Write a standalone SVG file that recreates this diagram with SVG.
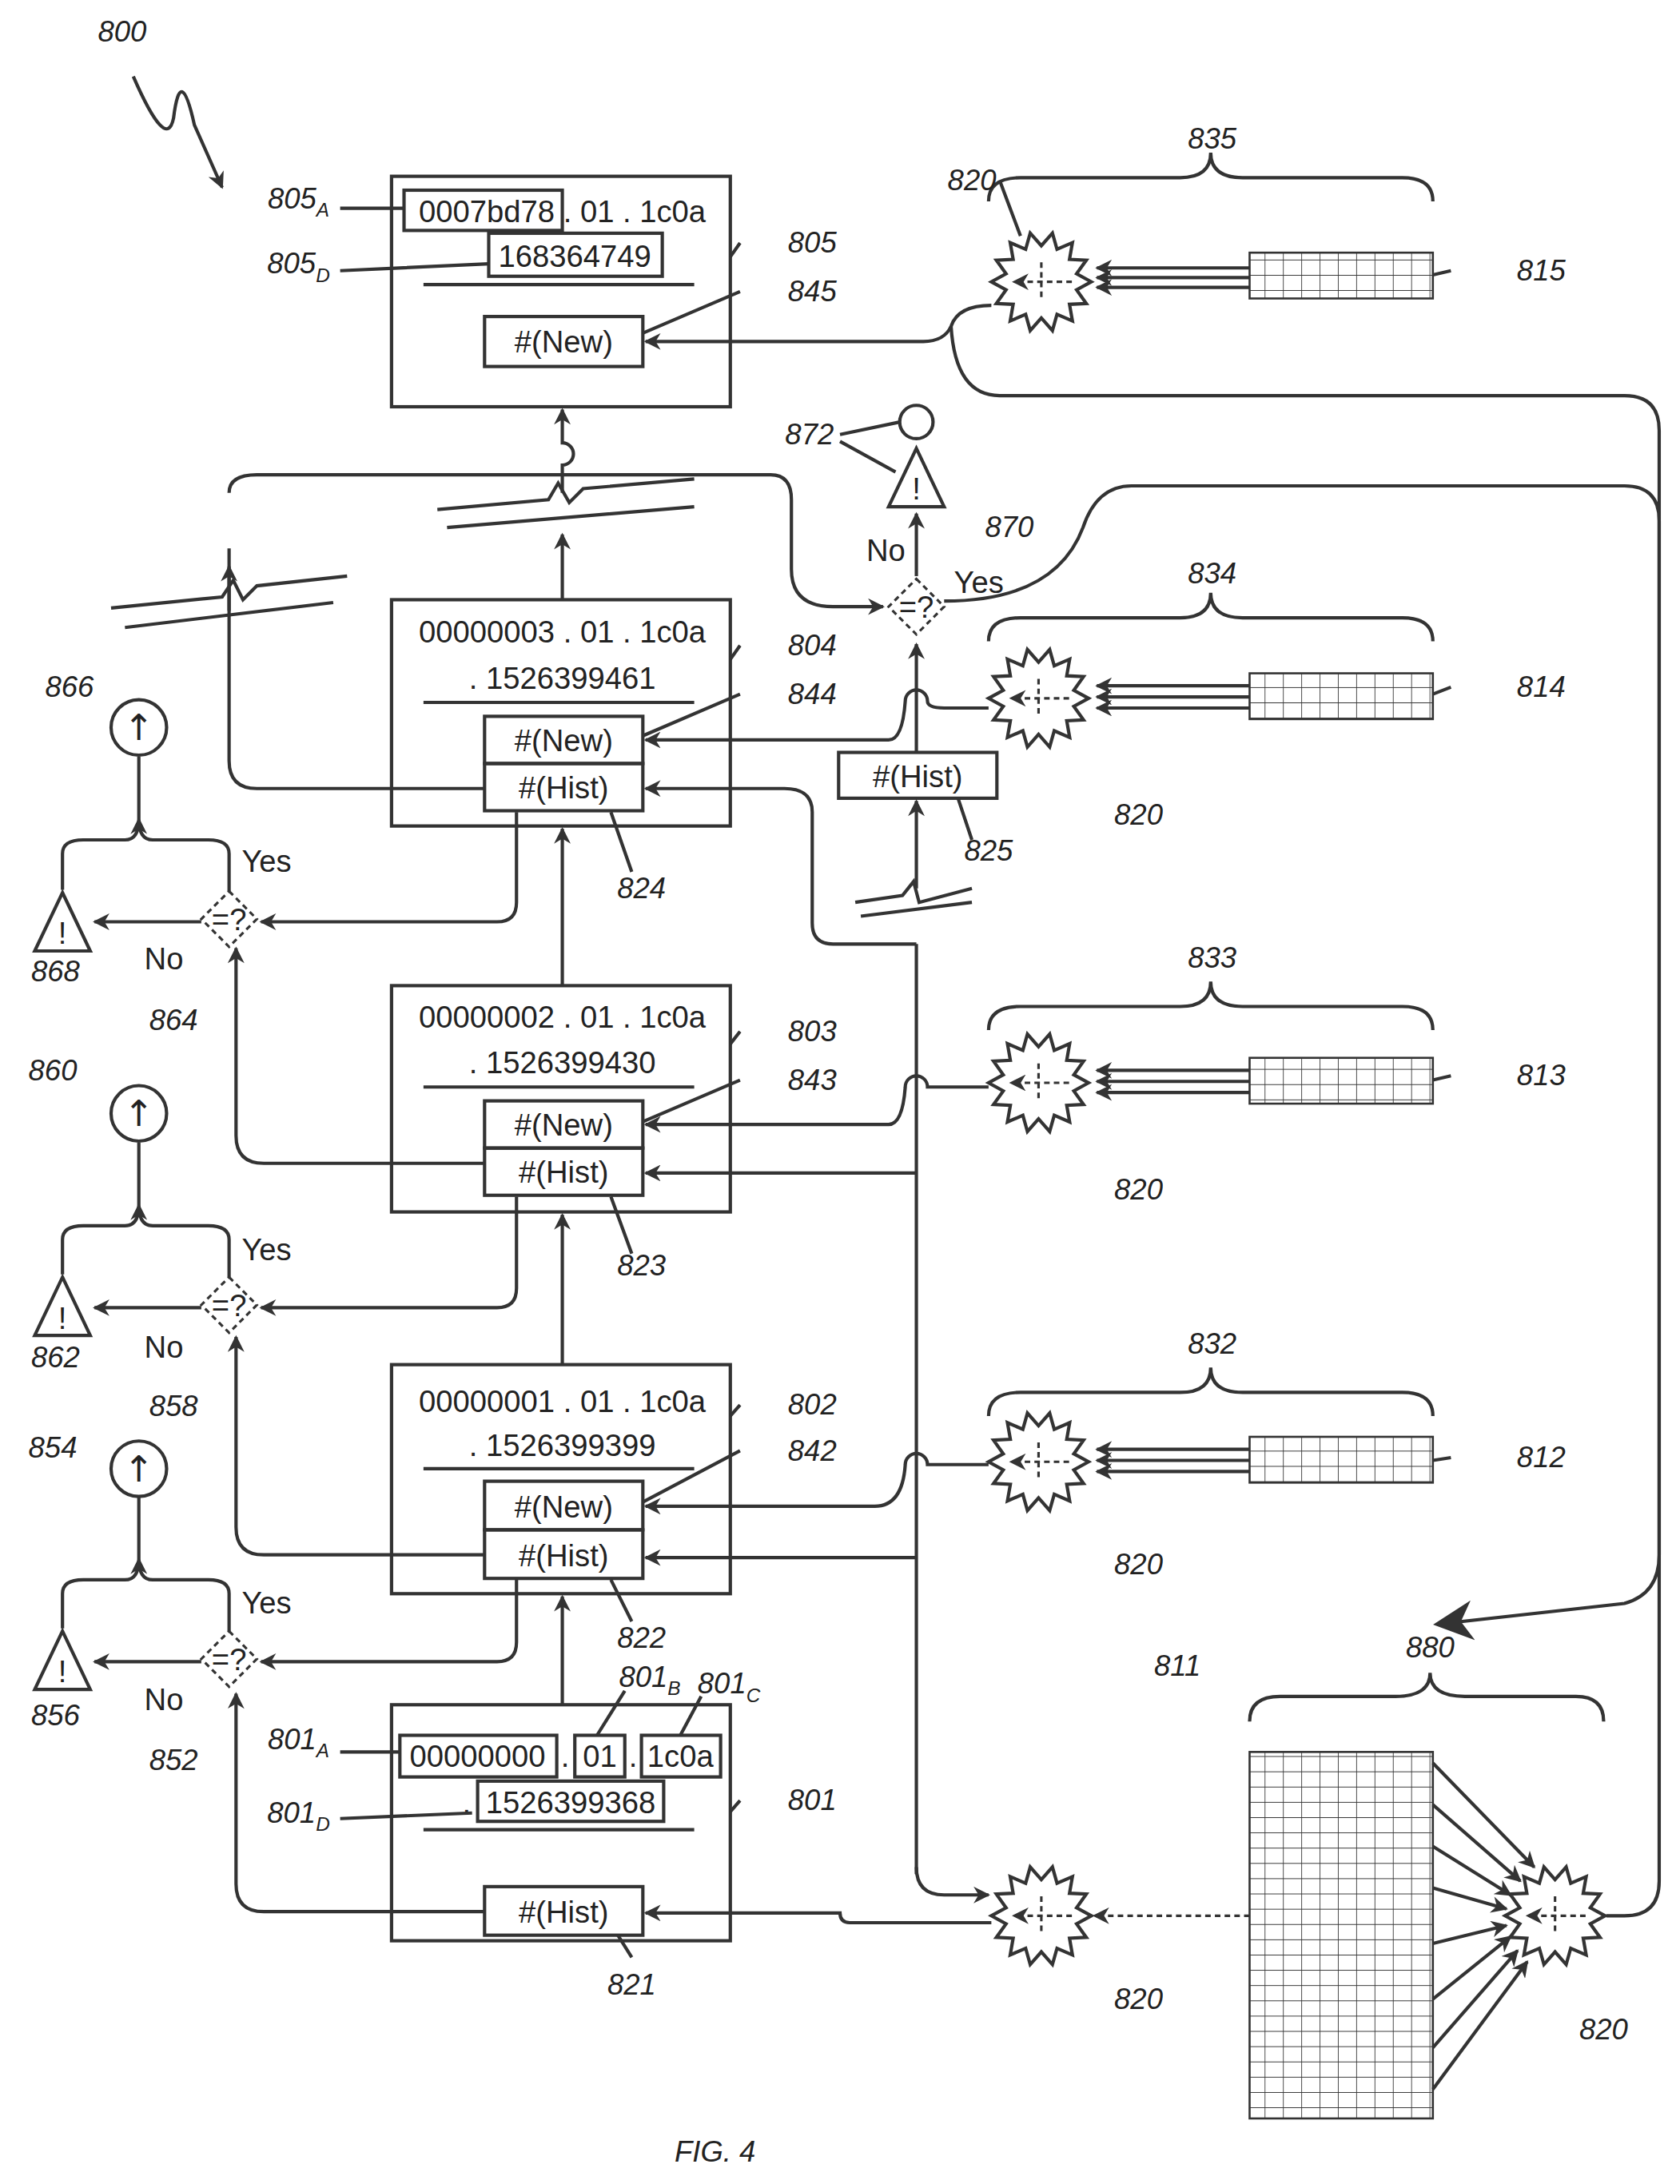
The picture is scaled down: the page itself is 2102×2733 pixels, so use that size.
<svg xmlns="http://www.w3.org/2000/svg" xmlns:xlink="http://www.w3.org/1999/xlink" width="2102" height="2733" viewBox="0 0 2102 2733">
<style>
.b{fill:none;stroke:#333;stroke-width:2.4}
.ln{fill:none;stroke:#333;stroke-width:2.4}
.d{fill:none;stroke:#333;stroke-width:1.8;stroke-dasharray:4 3}
.t{font-family:"Liberation Sans",Arial,sans-serif;font-size:22px;fill:#222;text-anchor:middle}
.l{font-family:"Liberation Sans",Arial,sans-serif;font-size:21px;font-style:italic;fill:#222;text-anchor:middle}
.s{font-size:14px}
.up{font-family:"DejaVu Sans",sans-serif;font-size:26px;fill:#222;text-anchor:middle}
</style>
<defs>
<marker id="a" viewBox="0 0 10 10" refX="9" refY="5" markerWidth="14" markerHeight="12" orient="auto" markerUnits="userSpaceOnUse"><path d="M0,0 L10,5 L0,10 L3,5 z" fill="#333"/></marker>
<marker id="A" viewBox="0 0 10 10" refX="9" refY="5" markerWidth="12" markerHeight="12" orient="auto"><path d="M0,0 L10,5 L0,10 L3,5 z" fill="#333"/></marker>
<pattern id="g" width="13.2" height="11" patternUnits="userSpaceOnUse"><path d="M0,0 H13.2 M0,0 V11" stroke="#333" stroke-width="1" fill="none"/></pattern>
<g id="fl">
<polygon class="b" fill="#fff" points="36,0 25.4,5.8 32.4,15.6 20.3,16.2 22.4,28.2 11.3,23.4 8,35.1 0,26 -8,35.1 -11.3,23.4 -22.4,28.2 -20.3,16.2 -32.4,15.6 -25.4,5.8 -36,0 -25.4,-5.8 -32.4,-15.6 -20.3,-16.2 -22.4,-28.2 -11.3,-23.4 -8,-35.1 0,-26 8,-35.1 11.3,-23.4 22.4,-28.2 20.3,-16.2 32.4,-15.6 25.4,-5.8"/>
<path class="d" d="M0,-14 V14 M22,0 H-20" marker-end="url(#a)"/>
</g>
<g id="dm"><path class="d" d="M0,-20 L20,0 L0,20 L-20,0 Z"/><text class="t" y="8" font-size="20">=?</text></g>
<g id="tr"><path class="b" d="M0,-22 L20,20 H-20 Z"/><text class="t" y="15" font-size="18">!</text></g>
</defs>
<rect width="2102" height="2733" fill="#fff"/>
<g transform="scale(1.7372)">
<g id="n805"><rect class="b" x="282" y="127" width="244" height="166"/>
<rect class="b" x="291" y="137" width="114" height="29"/><text class="t" x="405" y="160">0007bd78 . 01 . 1c0a</text>
<rect class="b" x="352" y="168" width="125" height="31"/><text class="t" x="414" y="192">168364749</text>
<path class="ln" d="M305,205 H500"/><rect class="b" x="349" y="228" width="114" height="36"/><text class="t" x="406" y="254">#(New)</text></g>
<g id="n804"><rect class="b" x="282" y="432" width="244" height="163"/><text class="t" x="405" y="463">00000003 . 01 . 1c0a</text><text class="t" x="405" y="496">. 1526399461</text><path class="ln" d="M305,506 H500"/>
<rect class="b" x="349" y="516" width="114" height="34"/><text class="t" x="406" y="541">#(New)</text><rect class="b" x="349" y="550" width="114" height="34"/><text class="t" x="406" y="575">#(Hist)</text></g>
<g id="n803"><rect class="b" x="282" y="710" width="244" height="163"/><text class="t" x="405" y="740">00000002 . 01 . 1c0a</text><text class="t" x="405" y="773">. 1526399430</text><path class="ln" d="M305,783 H500"/>
<rect class="b" x="349" y="793" width="114" height="34"/><text class="t" x="406" y="818">#(New)</text><rect class="b" x="349" y="827" width="114" height="34"/><text class="t" x="406" y="852">#(Hist)</text></g>
<g id="n802"><rect class="b" x="282" y="983" width="244" height="165"/><text class="t" x="405" y="1017">00000001 . 01 . 1c0a</text><text class="t" x="405" y="1049">. 1526399399</text><path class="ln" d="M305,1058 H500"/>
<rect class="b" x="349" y="1067" width="114" height="35"/><text class="t" x="406" y="1093">#(New)</text><rect class="b" x="349" y="1102" width="114" height="35"/><text class="t" x="406" y="1128">#(Hist)</text></g>
<g id="n801"><rect class="b" x="282" y="1228" width="244" height="170"/>
<rect class="b" x="288" y="1250" width="113" height="30"/><rect class="b" x="414" y="1250" width="36" height="30"/><rect class="b" x="462" y="1250" width="57" height="30"/>
<text class="t" x="344" y="1273">00000000</text><text class="t" x="407" y="1273">.</text><text class="t" x="432" y="1273">01</text><text class="t" x="456" y="1273">.</text><text class="t" x="490" y="1273">1c0a</text>
<rect class="b" x="344" y="1283" width="134" height="29"/><text class="t" x="336" y="1306">.</text><text class="t" x="411" y="1306">1526399368</text>
<path class="ln" d="M305,1318 H500"/><rect class="b" x="349" y="1359" width="114" height="35"/><text class="t" x="406" y="1385">#(Hist)</text></g>
<g id="n825"><rect class="b" x="604" y="542" width="114" height="33"/><text class="t" x="661" y="567">#(Hist)</text></g>
<g id="grids">
<rect x="900" y="182" width="132" height="33" fill="url(#g)" stroke="#333" stroke-width="1.5"/>
<rect x="900" y="485" width="132" height="33" fill="url(#g)" stroke="#333" stroke-width="1.5"/>
<rect x="900" y="762" width="132" height="33" fill="url(#g)" stroke="#333" stroke-width="1.5"/>
<rect x="900" y="1035" width="132" height="33" fill="url(#g)" stroke="#333" stroke-width="1.5"/>
<rect x="900" y="1262" width="132" height="264" fill="url(#g)" stroke="#333" stroke-width="1.5"/>
</g>
<g id="connectors">
<path class="ln" d="M405,1228 V1150" marker-end="url(#a)"/><path class="ln" d="M405,983 V875" marker-end="url(#a)"/><path class="ln" d="M405,710 V597" marker-end="url(#a)"/>
<path class="ln" d="M405,432 V385"  marker-end="url(#a)"/><path class="ln" d="M405,355 V335 a8,8 0 0 0 0,-16 V295" marker-end="url(#a)"/>
<path class="ln" d="M315,367 L395,360 L402,348 L410,362 L420,352 L500,345 M322,380 L500,365"/>
<path class="ln" d="M349,568 H185 Q165,568 165,548 V395"/><path class="ln" d="M165,440 V408" marker-end="url(#a)"/>
<path class="ln" d="M165,355 Q165,342 185,342 H555 Q570,342 570,360 V410 Q570,437 600,437 H636" marker-end="url(#a)"/>
<path class="ln" d="M80,438 L160,430 L168,418 L175,432 L185,422 L250,415 M90,452 L240,434"/>
<path class="ln" d="M349,838 H190 Q170,838 170,818 V683" marker-end="url(#a)"/>
<path class="ln" d="M349,1120 H190 Q170,1120 170,1100 V963" marker-end="url(#a)"/>
<path class="ln" d="M349,1377 H190 Q170,1377 170,1357 V1220" marker-end="url(#a)"/>
<path class="ln" d="M372,585 V650 Q372,664 358,664 H188" marker-end="url(#a)"/>
<path class="ln" d="M372,862 V928 Q372,942 358,942 H188" marker-end="url(#a)"/>
<path class="ln" d="M372,1138 V1183 Q372,1197 358,1197 H188" marker-end="url(#a)"/>
<path class="ln" d="M145,664 H68" marker-end="url(#a)"/><path class="ln" d="M145,942 H68" marker-end="url(#a)"/><path class="ln" d="M145,1197 H68" marker-end="url(#a)"/>
<path class="ln" d="M45,641 V615 Q45,605 60,605 H90 Q100,605 100,590 V545 M165,642 V615 Q165,605 150,605 H110 Q100,605 100,590" marker-end="url(#a)"/>
<path class="ln" d="M45,918 V893 Q45,883 60,883 H90 Q100,883 100,868 V823 M165,920 V893 Q165,883 150,883 H110 Q100,883 100,868" marker-end="url(#a)"/>
<path class="ln" d="M45,1173 V1148 Q45,1138 60,1138 H90 Q100,1138 100,1123 V1078 M165,1175 V1148 Q165,1138 150,1138 H110 Q100,1138 100,1123" marker-end="url(#a)"/>
<path class="ln" d="M660,415 V370" marker-end="url(#a)"/><path class="ln" d="M660,542 V464" marker-end="url(#a)"/>
<path class="ln" d="M660,1350 V680 M660,640 V577" marker-end="url(#a)"/>
<path class="ln" d="M620,660 L700,650 M616,650 L650,645 L658,635 L662,650 L700,640"/>
<path class="ln" d="M660,680 H600 Q585,680 585,665 V585 Q585,568 565,568 H465" marker-end="url(#a)"/>
<path class="ln" d="M660,845 H465" marker-end="url(#a)"/><path class="ln" d="M660,1122 H465" marker-end="url(#a)"/>
<path class="ln" d="M660,1345 Q660,1365 680,1365 H712" marker-end="url(#a)"/>
<path class="ln" d="M714,1385 H612 Q605,1385 605,1378 H465" marker-end="url(#a)"/>
<path class="d" d="M900,1380 H788" marker-end="url(#a)"/>
<path class="ln" d="M712,510 H680 Q668,510 668,505 a8,8 0 0 0 -16,0 Q650,533 640,533 H465" marker-end="url(#a)"/>
<path class="ln" d="M712,783 H668 a8,8 0 0 0 -16,0 Q650,810 640,810 H465" marker-end="url(#a)"/>
<path class="ln" d="M712,1055 H668 a8,8 0 0 0 -16,0 Q650,1085 630,1085 H465" marker-end="url(#a)"/>
<path class="ln" d="M714,220 Q690,220 685,235 Q680,246 665,246 H465" marker-end="url(#a)"/>
<path class="ln" d="M685,235 Q688,285 720,285 H1170 Q1195,285 1195,310 V1355 Q1195,1380 1170,1380 H1157"/>
<path class="ln" d="M680,433 Q760,433 780,380 Q790,350 815,350 H1170 Q1195,350 1195,375 V1120 Q1195,1148 1170,1155 L1035,1170" marker-end="url(#A)"/>
<path class="ln" d="M900,193 H790" marker-end="url(#a)"/><path class="ln" d="M900,200 H790" marker-end="url(#a)"/><path class="ln" d="M900,207 H790" marker-end="url(#a)"/>
<path class="ln" d="M900,494 H790" marker-end="url(#a)"/><path class="ln" d="M900,502 H790" marker-end="url(#a)"/><path class="ln" d="M900,510 H790" marker-end="url(#a)"/>
<path class="ln" d="M900,771 H790" marker-end="url(#a)"/><path class="ln" d="M900,779 H790" marker-end="url(#a)"/><path class="ln" d="M900,787 H790" marker-end="url(#a)"/>
<path class="ln" d="M900,1044 H790" marker-end="url(#a)"/><path class="ln" d="M900,1052 H790" marker-end="url(#a)"/><path class="ln" d="M900,1060 H790" marker-end="url(#a)"/>
<path class="ln" d="M1032,1270 L1105,1345" marker-end="url(#a)"/><path class="ln" d="M1032,1300 L1095,1355" marker-end="url(#a)"/><path class="ln" d="M1032,1330 L1088,1365" marker-end="url(#a)"/><path class="ln" d="M1032,1360 L1085,1375" marker-end="url(#a)"/>
<path class="ln" d="M1032,1400 L1085,1387" marker-end="url(#a)"/><path class="ln" d="M1032,1440 L1088,1395" marker-end="url(#a)"/><path class="ln" d="M1032,1475 L1093,1405" marker-end="url(#a)"/><path class="ln" d="M1032,1505 L1100,1413" marker-end="url(#a)"/>
<path class="ln" d="M712,145 Q712,128 735,128 H850 Q872,128 872,110 Q872,128 895,128 H1010 Q1032,128 1032,145"/>
<path class="ln" d="M712,462 Q712,445 735,445 H850 Q872,445 872,427 Q872,445 895,445 H1010 Q1032,445 1032,462"/>
<path class="ln" d="M712,742 Q712,725 735,725 H850 Q872,725 872,707 Q872,725 895,725 H1010 Q1032,725 1032,742"/>
<path class="ln" d="M712,1020 Q712,1003 735,1003 H850 Q872,1003 872,985 Q872,1003 895,1003 H1010 Q1032,1003 1032,1020"/>
<path class="ln" d="M900,1240 Q900,1222 922,1222 H1005 Q1030,1222 1030,1205 Q1030,1222 1055,1222 H1135 Q1155,1222 1155,1240"/>
<path class="ln" d="M96,55 Q120,110 125,85 Q130,45 140,90 L160,135" marker-end="url(#a)"/>
</g>
<g id="shapes">
<use xlink:href="#fl" x="750" y="203"/><use xlink:href="#fl" x="748" y="503"/><use xlink:href="#fl" x="748" y="780"/><use xlink:href="#fl" x="748" y="1053"/><use xlink:href="#fl" x="750" y="1380"/><use xlink:href="#fl" x="1120" y="1380"/>
<use xlink:href="#dm" x="165" y="662"/><use xlink:href="#dm" x="165" y="940"/><use xlink:href="#dm" x="165" y="1195"/><use xlink:href="#dm" x="660" y="437"/>
<use xlink:href="#tr" x="45" y="665"/><use xlink:href="#tr" x="45" y="942"/><use xlink:href="#tr" x="45" y="1197"/><use xlink:href="#tr" x="660" y="345"/>
<circle class="b" cx="100" cy="524" r="20"/><text class="up" x="100" y="533">↑</text>
<circle class="b" cx="100" cy="802" r="20"/><text class="up" x="100" y="811">↑</text>
<circle class="b" cx="100" cy="1058" r="20"/><text class="up" x="100" y="1067">↑</text>
<circle class="b" cx="660" cy="304" r="12"/>
<path class="ln" d="M605,313 L648,304 M605,318 L645,340 M245,150 L291,150 M245,195 L352,190 M245,1262 L288,1262 M245,1310 L340,1306 M450,1218 L430,1250 M505,1222 L490,1250 M533,175 L526,185 M533,210 L463,240 M533,465 L526,475 M533,500 L463,530 M533,743 L526,752 M533,778 L463,808 M533,1012 L526,1020 M533,1045 L463,1082 M533,1297 L526,1305 M1045,195 L1032,198 M1045,495 L1032,500 M1045,775 L1032,778 M1045,1050 L1032,1052 M455,1410 L445,1394 M455,1168 L440,1138 M455,903 L440,862 M455,628 L440,585 M700,605 L690,575 M720,130 L735,170"/>
</g>
<g id="labels">
<text class="l" x="88" y="30">800</text>
<text class="l" x="215" y="150">805<tspan class="s" dy="6">A</tspan></text><text class="l" x="215" y="197">805<tspan class="s" dy="6">D</tspan></text>
<text class="l" x="585" y="182">805</text><text class="l" x="585" y="217">845</text>
<text class="l" x="585" y="472">804</text><text class="l" x="585" y="507">844</text><text class="l" x="462" y="647">824</text>
<text class="l" x="585" y="750">803</text><text class="l" x="585" y="785">843</text><text class="l" x="462" y="919">823</text>
<text class="l" x="585" y="1019">802</text><text class="l" x="585" y="1052">842</text><text class="l" x="462" y="1187">822</text>
<text class="l" x="585" y="1304">801</text><text class="l" x="455" y="1437">821</text>
<text class="l" x="215" y="1260">801<tspan class="s" dy="6">A</tspan></text><text class="l" x="215" y="1313">801<tspan class="s" dy="6">D</tspan></text>
<text class="l" x="468" y="1215">801<tspan class="s" dy="6">B</tspan></text><text class="l" x="525" y="1220">801<tspan class="s" dy="6">C</tspan></text>
<text class="l" x="873" y="107">835</text><text class="l" x="873" y="420">834</text><text class="l" x="873" y="697">833</text><text class="l" x="873" y="975">832</text><text class="l" x="1030" y="1194">880</text><text class="l" x="848" y="1207">811</text>
<text class="l" x="1110" y="202">815</text><text class="l" x="1110" y="502">814</text><text class="l" x="1110" y="782">813</text><text class="l" x="1110" y="1057">812</text>
<text class="l" x="700" y="137">820</text><text class="l" x="820" y="594">820</text><text class="l" x="820" y="864">820</text><text class="l" x="820" y="1134">820</text><text class="l" x="820" y="1447">820</text><text class="l" x="1155" y="1469">820</text>
<text class="l" x="583" y="320">872</text><text class="l" x="712" y="620">825</text><text class="l" x="727" y="387">870</text>
<text class="l" x="50" y="502">866</text><text class="l" x="38" y="778">860</text><text class="l" x="38" y="1050">854</text>
<text class="l" x="40" y="707">868</text><text class="l" x="40" y="985">862</text><text class="l" x="40" y="1243">856</text>
<text class="l" x="125" y="742">864</text><text class="l" x="125" y="1020">858</text><text class="l" x="125" y="1275">852</text>
<text class="t" x="192" y="628">Yes</text><text class="t" x="118" y="698">No</text>
<text class="t" x="192" y="908">Yes</text><text class="t" x="118" y="978">No</text>
<text class="t" x="192" y="1162">Yes</text><text class="t" x="118" y="1232">No</text>
<text class="t" x="638" y="404">No</text><text class="t" x="705" y="427">Yes</text>
<text class="l" x="515" y="1557" font-size="17">FIG. 4</text>
</g>
</g>
</svg>
